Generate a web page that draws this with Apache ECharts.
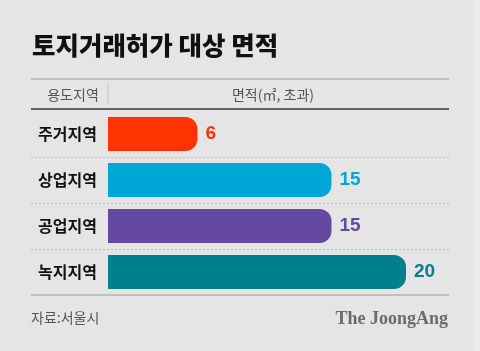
<!DOCTYPE html>
<html><head><meta charset="utf-8">
<script src="https://cdn.jsdelivr.net/npm/echarts@6/dist/echarts.min.js"></script>
<style>html,body{margin:0;padding:0;background:#e5e5e5}#c{width:480px;height:351px}</style>
</head><body><div id="c"></div>
<script>
const categories = ['주거지역', '상업지역', '공업지역', '녹지지역'];
const values = [6, 15, 15, 20];
const colors = ['#ff3300', '#00a6d6', '#6549a1', '#00808a'];
const title = '토지거래허가 대상 면적';
const headerLeft = '용도지역';
const headerRight = '면적(㎡, 초과)';
const source = '자료:서울시';
const brand = 'The JoongAng';

const KR = '"Noto Sans CJK KR", "Noto Sans", sans-serif';
const chart = echarts.init(document.getElementById('c'));
chart.setOption({
  backgroundColor: '#e5e5e5',
  animation: false,
  title: [
    {text: title, left: 27, top: 28, textStyle: {fontFamily: KR, fontSize: 25.5, fontWeight: 900, color: '#111'}},
    {text: headerLeft, left: 68, top: 83, textAlign: 'center', textStyle: {fontFamily: KR, fontSize: 14, fontWeight: 400, color: '#555'}},
    {text: headerRight, left: 268, top: 83, textAlign: 'center', textStyle: {fontFamily: KR, fontSize: 14, fontWeight: 400, color: '#555'}},
    {text: source, left: 26, top: 306, textStyle: {fontFamily: KR, fontSize: 14, fontWeight: 400, color: '#555'}},
    {text: brand, right: 27, top: 305, textStyle: {fontFamily: '"Liberation Serif", "DejaVu Serif", serif', fontSize: 18, fontWeight: 'bold', color: '#6b6b6b'}}
  ],
  graphic: [
    {type: 'rect', shape: {x: 473, y: 0, width: 7, height: 351}, style: {fill: '#ebebeb'}},
    {type: 'line', shape: {x1: 31, y1: 79, x2: 449, y2: 79}, style: {stroke: '#9a9a9a', lineWidth: 1}},
    {type: 'line', shape: {x1: 108, y1: 83, x2: 108, y2: 104}, style: {stroke: '#c4c4c4', lineWidth: 1}},
    {type: 'line', shape: {x1: 31, y1: 109, x2: 449, y2: 109}, style: {stroke: '#333', lineWidth: 1.5}},
    {type: 'line', shape: {x1: 31, y1: 295, x2: 449, y2: 295}, style: {stroke: '#9a9a9a', lineWidth: 1}}
  ],
  grid: [
    {left: 108, right: 74, top: 111, height: 184},
    {left: 31, right: 31, top: 111, height: 184}
  ],
  xAxis: [
    {gridIndex: 0, type: 'value', min: 0, max: 20, show: false},
    {gridIndex: 1, type: 'value', min: 0, max: 1, show: false}
  ],
  yAxis: [
    {gridIndex: 0, type: 'category', data: categories, inverse: true,
     axisLine: {show: false}, axisTick: {show: false}, splitLine: {show: false},
     axisLabel: {margin: 11, fontFamily: KR, fontSize: 16, fontWeight: 'bold', color: '#111'}},
    {gridIndex: 1, type: 'category', data: categories, inverse: true,
     axisLine: {show: false}, axisTick: {show: false}, axisLabel: {show: false},
     splitLine: {show: true, interval: function (i) { return i > 0 && i < categories.length; },
       lineStyle: {color: '#bdbdbd', type: [2, 2], width: 1}}}
  ],
  series: [{
    type: 'bar', xAxisIndex: 0, yAxisIndex: 0, barWidth: 34,
    data: values.map((v, i) => ({value: v, itemStyle: {color: colors[i]}, label: {color: colors[i]}})),
    itemStyle: {borderRadius: [0, 12, 12, 0]},
    label: {show: true, position: 'right', distance: 8, fontFamily: '"Liberation Sans", Arial, sans-serif', fontSize: 19, fontWeight: 'bold'}
  }]
});
</script></body></html>
